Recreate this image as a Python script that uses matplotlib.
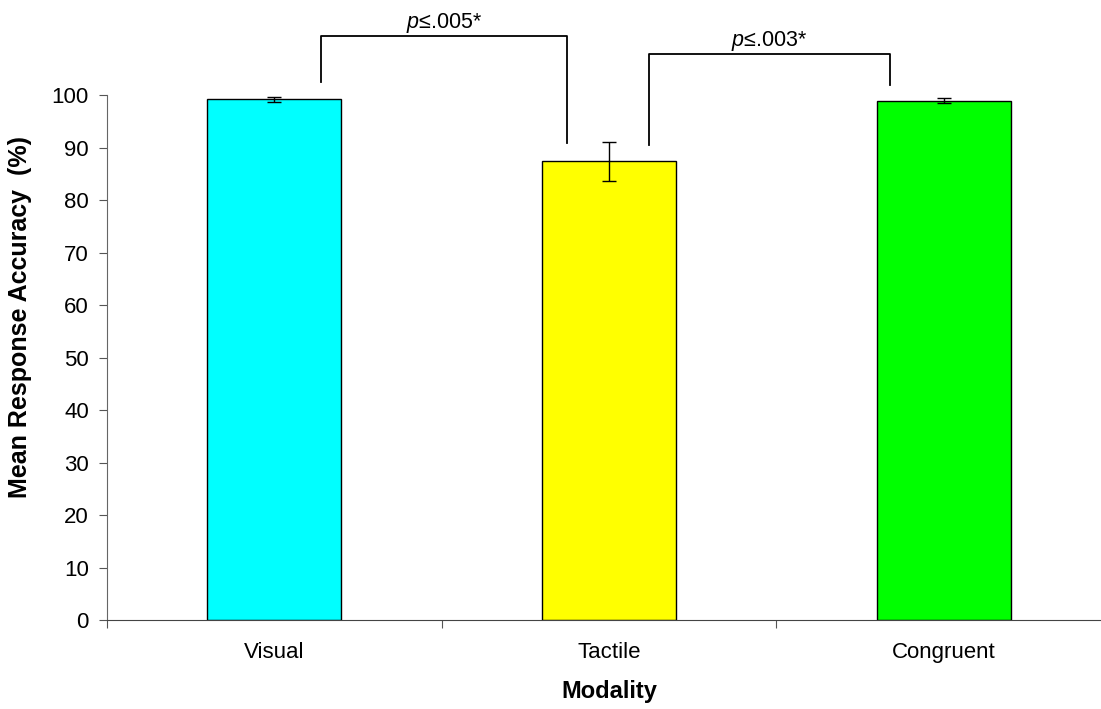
import numpy as np
import matplotlib.pyplot as plt

plt.rcParams['font.family'] = ['Liberation Sans', 'DejaVu Sans']
plt.rcParams['mathtext.fontset'] = 'custom'
plt.rcParams['mathtext.it'] = 'Liberation Sans:italic'
plt.rcParams['mathtext.rm'] = 'Liberation Sans'

modalities = ['Visual', 'Tactile', 'Congruent']
accuracy = [99.2, 87.4, 98.9]
err = [0.5, 3.7, 0.5]
colors = ['#00FFFF', '#FFFF00', '#00FF00']

# significance brackets: (x_left, x_right, y_left_end, y_right_end, y_top, label)
brackets = [
    (0.138, 0.874, 102.5, 90.9, 111.2, r'$p$≤.005*'),
    (1.120, 1.838, 90.5, 101.9, 107.8, r'$p$≤.003*'),
]

fig = plt.figure(figsize=(11.01, 7.09), dpi=100)
ax = fig.add_axes([0.0972, 0.1255, 0.912, 0.7405])

x = np.arange(len(modalities))
ax.bar(x, accuracy, width=0.4, color=colors, edgecolor='black', linewidth=1, zorder=2)
ax.errorbar(x, accuracy, yerr=err, fmt='none', ecolor='black', elinewidth=1,
            capsize=5, capthick=1, zorder=3)

for xl, xr, yl, yr, yt, lab in brackets:
    ax.plot([xl, xl, xr, xr], [yl, yt, yt, yr], color='black', lw=1.3, clip_on=False)
    ax.text((xl + xr) / 2, yt + 0.2, lab, ha='center', va='bottom', fontsize=15.5)

ax.set_xlim(-0.5, 2.5)
ax.set_ylim(0, 100)
ax.set_yticks(np.arange(0, 101, 10))
ax.set_xticks([-0.5, 0.5, 1.5, 2.5])
ax.set_xticklabels([])
ax.set_xticks(x, minor=True)
ax.set_xticklabels(modalities, minor=True)
ax.tick_params(axis='x', which='minor', length=0, pad=16, labelsize=16)
ax.tick_params(axis='x', which='major', length=6, color='#555555')
ax.tick_params(axis='y', length=6, color='#555555', labelsize=16, pad=7)

for s in ['top', 'right']:
    ax.spines[s].set_visible(False)
ax.spines['left'].set_color('#666666')
ax.spines['bottom'].set_color('#444444')

ax.set_ylabel('Mean Response Accuracy  (%)', fontsize=18, fontweight='bold')
ax.yaxis.set_label_coords(-0.075, 0.577)
ax.set_xlabel('Modality', fontsize=17, fontweight='bold', labelpad=12)

fig.savefig('out.png', dpi=100)
